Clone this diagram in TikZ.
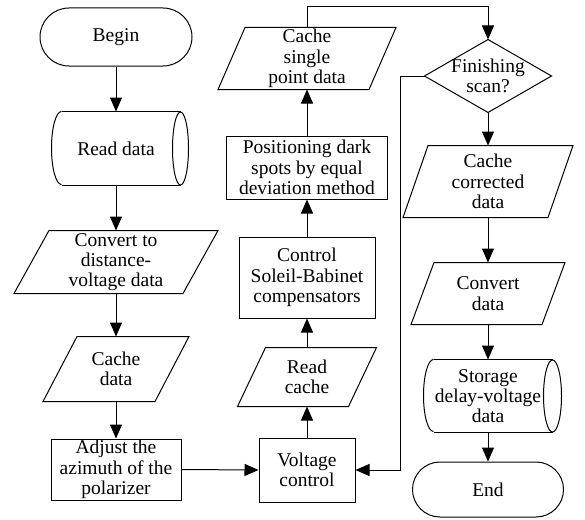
\documentclass[tikz,border=0pt]{standalone}
\usepackage{fontspec}
\setmainfont{Liberation Serif}
\usetikzlibrary{arrows.meta}
\newcommand\mypara[2]{\draw ([xshift=#2]#1.north west) -- (#1.north east) -- ([xshift=-#2]#1.south east) -- (#1.south west) -- cycle;}
\newcommand\mycyl[3]{%
  \draw ([xshift=10pt]#1.north west) -- (#1.north east);
  \draw ([xshift=10pt]#1.south west) -- (#1.south east);
  \draw (#1.east) ellipse [x radius=#2, y radius=#3];
  \draw ([xshift=10pt]#1.north west) arc [start angle=90, end angle=270, x radius=10pt, y radius=#3];}
\begin{document}
\begin{tikzpicture}[x=1pt,y=-1pt,line width=1pt,
  base/.style={inner sep=0pt, align=center, font=\fontsize{19.5}{20.3}\selectfont},
  proc/.style={base, draw, rectangle},
  term/.style={base, draw, rounded corners=#1},
  arr/.style={-{Triangle[length=14pt,width=12pt]}}]
\useasboundingbox (0,0) rectangle (585,519);
% left column
\node[term=29pt, minimum width=152pt, minimum height=58pt] (begin) at (116,37) {Begin};
\node[base, minimum width=128pt, minimum height=73pt] (read) at (116,148.5) {Read data};
\mycyl{read}{8pt}{36.5pt}
\node[base, minimum width=203pt, minimum height=62pt] (conv) at (116,262) {Convert to\\distance-\\voltage data};
\mypara{conv}{35pt}
\node[base, minimum width=145pt, minimum height=64pt] (cache) at (116,369) {Cache\\data};
\mypara{cache}{34pt}
\node[proc, minimum width=130pt, minimum height=61pt] (adjust) at (116,469.5) {Adjust the\\azimuth of the\\polarizer};
% middle column
\node[proc, minimum width=96pt, minimum height=64pt] (volt) at (307,470) {Voltage\\control};
\node[base, minimum width=138pt, minimum height=58pt] (rcache) at (307,377) {Read\\cache};
\mypara{rcache}{28pt}
\node[proc, minimum width=136pt, minimum height=81pt] (ctrl) at (307,277.5) {Control\\Soleil-Babinet\\compensators};
\node[proc, minimum width=161pt, minimum height=63pt] (pos) at (307,167.5) {Positioning dark\\spots by equal\\deviation method};
\node[base, minimum width=177pt, minimum height=61pt] (single) at (307,58.5) {Cache\\single\\point data};
\mypara{single}{27pt}
% right column
\node[base, minimum width=126pt, minimum height=72pt] (fin) at (488,76) {Finishing\\scan?};
\draw (fin.north) -- (fin.east) -- (fin.south) -- (fin.west) -- cycle;
\node[base, minimum width=169pt, minimum height=71pt] (corr) at (488,181.5) {Cache\\corrected\\data};
\mypara{corr}{25pt}
\node[base, minimum width=153pt, minimum height=61pt] (cdata) at (488,293.5) {Convert\\data};
\mypara{cdata}{23pt}
\node[base, minimum width=128pt, minimum height=72pt] (store) at (488,396) {Storage\\delay-voltage\\data};
\mycyl{store}{9pt}{36pt}
\node[term=27.5pt, minimum width=151pt, minimum height=55pt] (end) at (488,489.5) {End};
\coordinate (turn) at (400,0);
% connectors
\draw[arr] (begin.south) -- (read.north);
\draw[arr] (read.south) -- (conv.north);
\draw[arr] (conv.south) -- (cache.north);
\draw[arr] (cache.south) -- (adjust.north);
\draw[arr] (adjust.east) -- (volt.west);
\draw[arr] (volt.north) -- (rcache.south);
\draw[arr] (rcache.north) -- (ctrl.south);
\draw[arr] (ctrl.north) -- (pos.south);
\draw[arr] (pos.north) -- (single.south);
\draw[arr] (single.north) -- ++(0,-21) -| (fin.north);
\draw[arr] (fin.west) -- (fin.west -| turn) |- (volt.east);
\draw[arr] (fin.south) -- (corr.north);
\draw[arr] (corr.south) -- (cdata.north);
\draw[arr] (cdata.south) -- (store.north);
\draw[arr] (store.south) -- (end.north);
\end{tikzpicture}
\end{document}
